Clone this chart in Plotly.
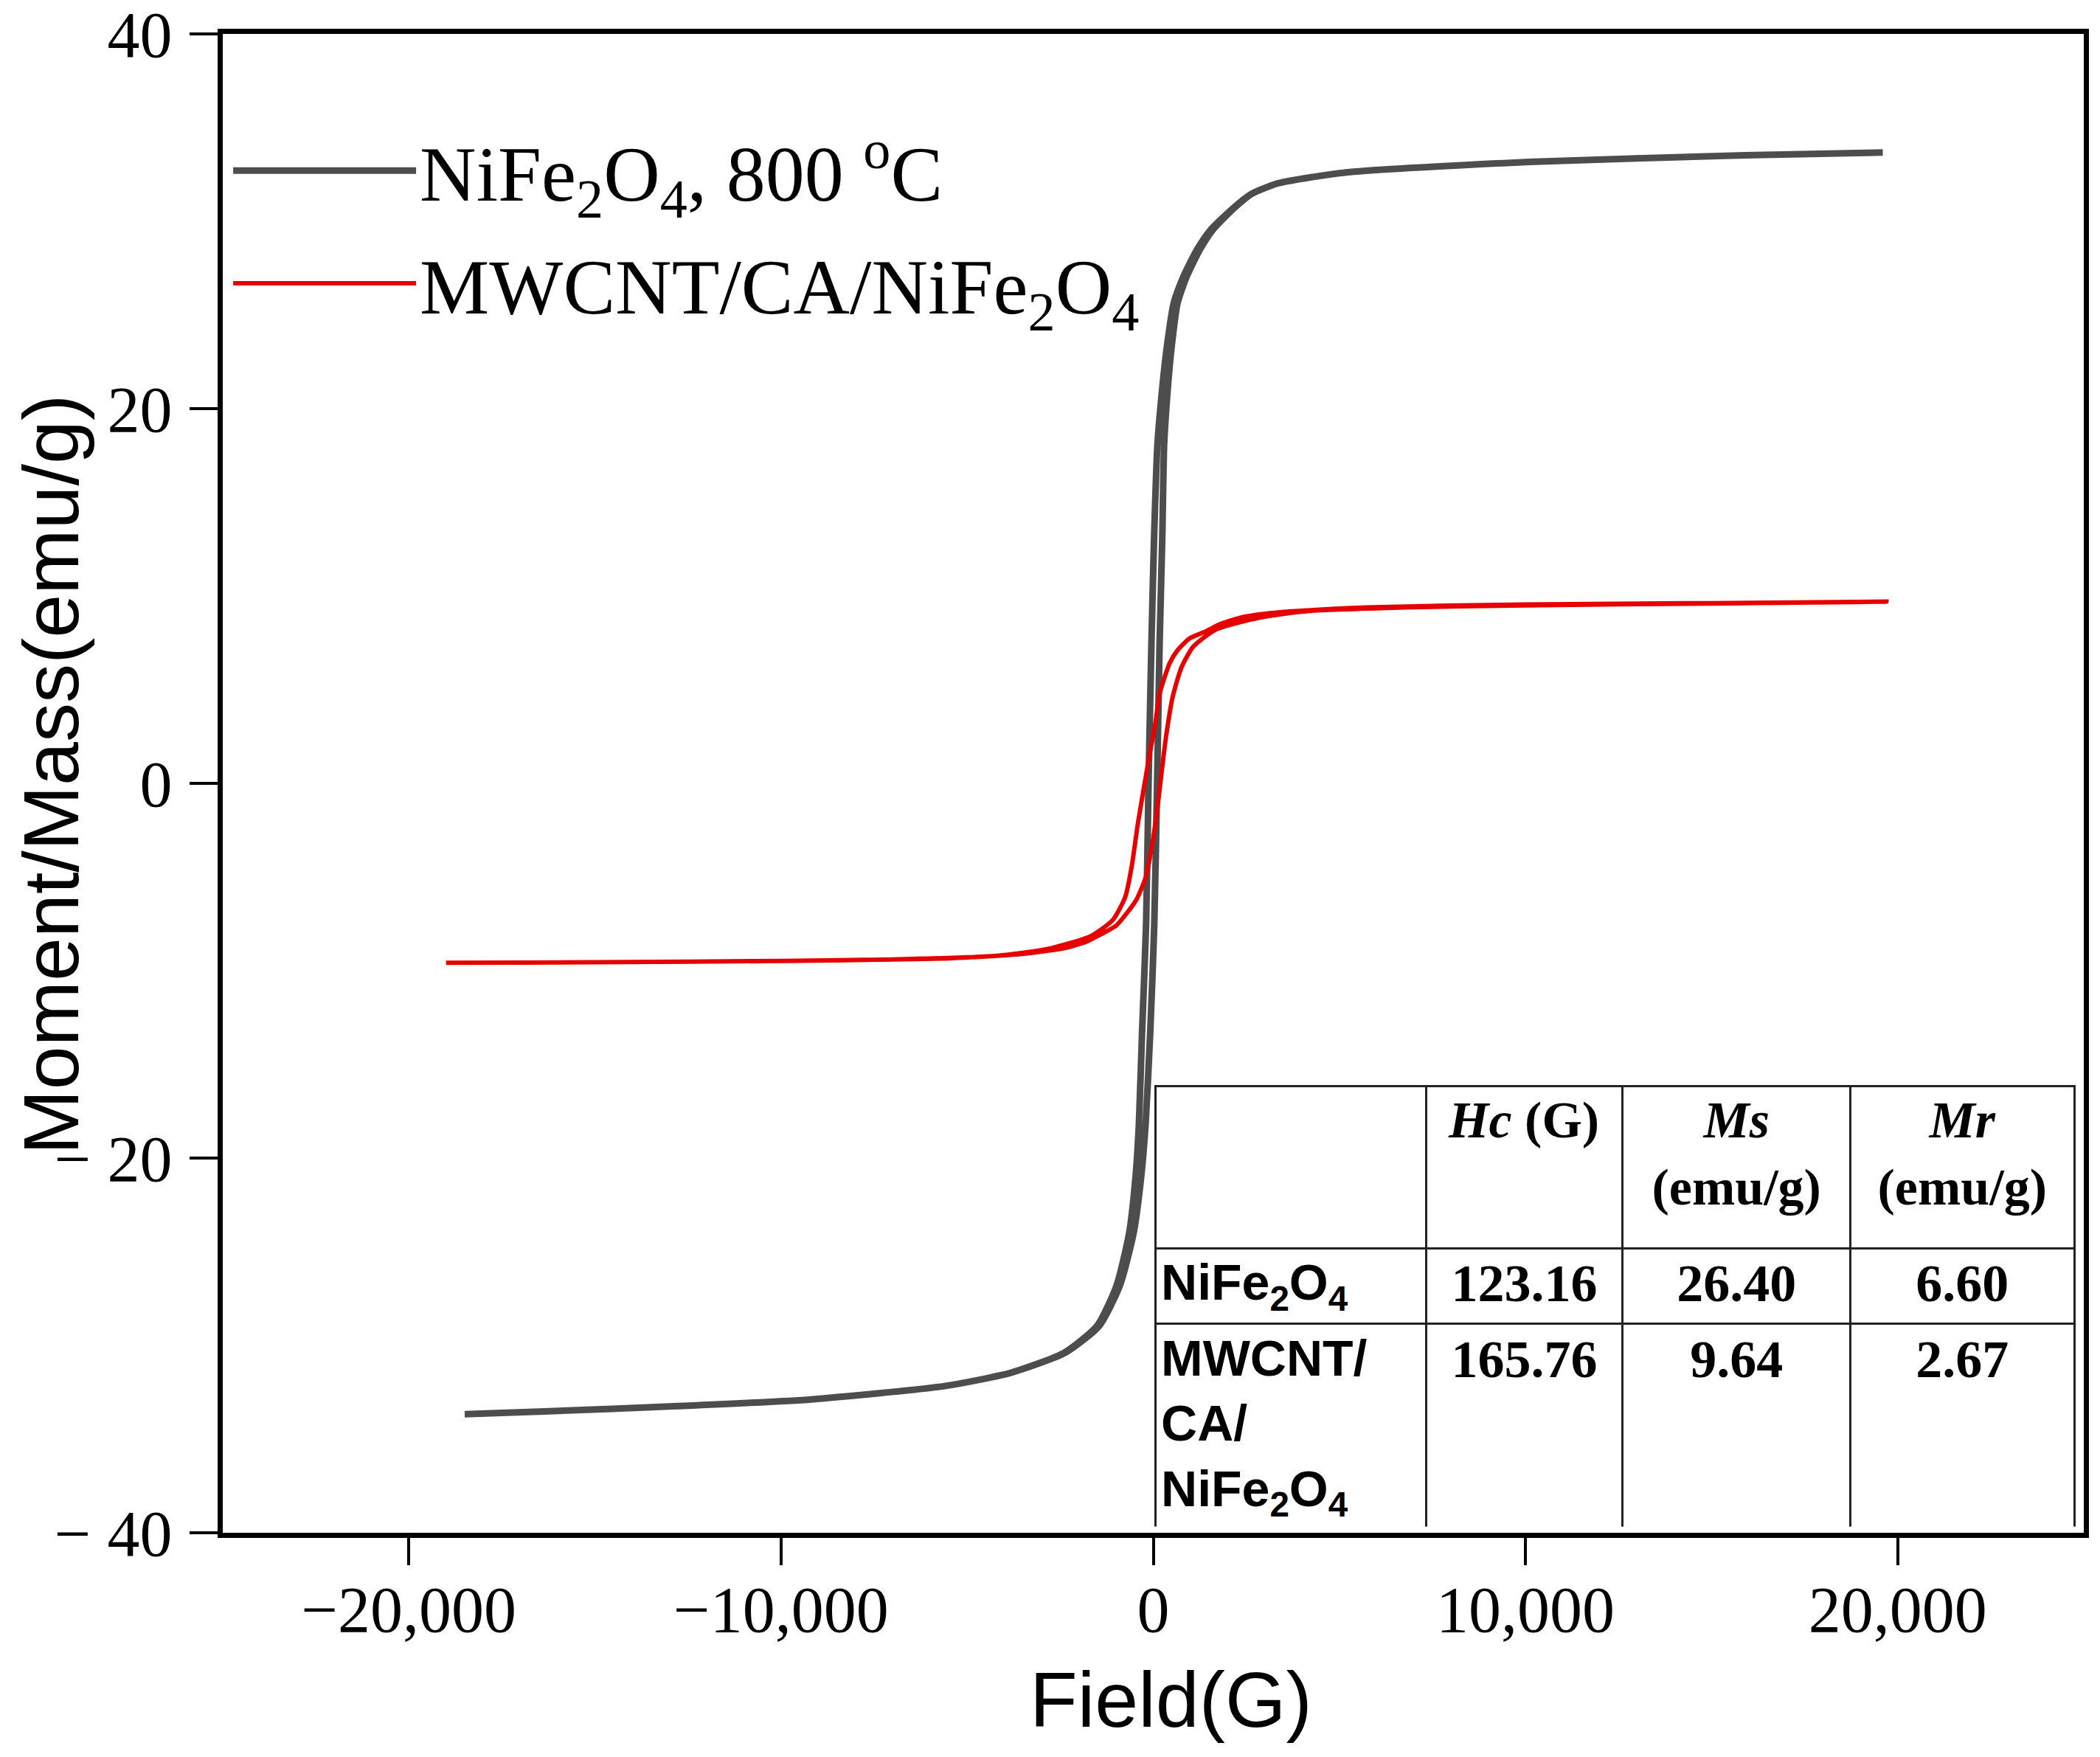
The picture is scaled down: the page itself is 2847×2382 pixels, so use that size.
import plotly.graph_objects as go

# NiFe2O4, 800 °C loop: branch coming down from +saturation, then branch going back up
nife_down_field = [19600, 15900, 10100, 5150, 3357, 2636, 2088, 1535, 1167, 804, 546, 353, 236, 113, 22,
                   -50, -127, -193, -301, -388, -481, -645, -989, -1511, -2392, -3811, -5603, -9187,
                   -12772, -16356, -18500]
nife_down_moment = [33.67, 33.52, 33.17, 32.60, 32.03, 31.46, 30.60, 29.53, 28.46, 27.03, 25.61, 23.11, 20.97,
                    18.12, 13.12, 7.42, 0.0, -7.56, -13.27, -18.26, -21.11, -23.97, -26.82, -28.96, -30.39,
                    -31.45, -32.17, -32.88, -33.24, -33.52, -33.67]
nife_up_field = [-18500, -16356, -12772, -9187, -5603, -3811, -2362, -1451, -899, -525, -331, -208, -81, 27,
                 103, 170, 242, 293, 386, 483, 650, 894, 1247, 1595, 2118, 2646, 3357, 5150, 10100, 15900, 19600]
nife_up_moment = [-33.67, -33.52, -33.24, -32.88, -32.17, -31.45, -30.39, -28.96, -26.82, -23.97, -21.11,
                  -18.26, -13.27, -7.56, 0.0, 7.42, 13.12, 18.12, 20.97, 23.11, 25.61, 27.03, 28.46, 29.53,
                  30.60, 31.46, 32.03, 32.60, 33.17, 33.52, 33.67]

# MWCNT/CA/NiFe2O4 loop
comp_down_field = [19700, 15000, 10000, 5700, 3500, 2400, 1800, 1400, 970, 650, 440, 178, 46, -86, -232,
                   -416, -581, -747, -1076, -1671, -2860, -4190, -7000, -10000, -15000, -19000]
comp_down_moment = [9.70, 9.62, 9.55, 9.39, 9.15, 8.87, 8.50, 8.10, 7.73, 7.10, 6.41, 4.83, 3.08, 1.67, 0.0,
                    -2.18, -4.46, -6.03, -7.27, -8.15, -8.85, -9.20, -9.40, -9.48, -9.55, -9.58]
comp_up_field = [-19000, -15000, -10000, -5700, -3500, -2400, -1800, -1400, -1000, -700, -450, -200, -40, 80,
                 190, 330, 520, 760, 1076, 1671, 2860, 4190, 7000, 10000, 15000, 19700]
comp_up_moment = [-9.58, -9.55, -9.48, -9.35, -9.10, -8.80, -8.45, -8.05, -7.60, -6.90, -6.20, -5.00, -3.40,
                  -1.80, 0.0, 2.30, 4.60, 6.20, 7.30, 8.20, 8.85, 9.20, 9.40, 9.50, 9.60, 9.70]

# inset table
table_samples = ["<b>NiFe<sub>2</sub>O<sub>4</sub></b>", "<b>MWCNT/<br>CA/<br>NiFe<sub>2</sub>O<sub>4</sub></b>"]
hc_values = [123.16, 165.76]
ms_values = [26.40, 9.64]
mr_values = [6.60, 2.67]
pad = "\u00a0" * 4
table_headers = ["", "<b><i>Hc</i> (G)</b>",
                 "<b>" + pad + "<i>Ms</i><br>(emu/g)</b>",
                 "<b>" + pad + "<i>Mr</i><br>(emu/g)</b>"]

x_ticks = [-20000, -10000, 0, 10000, 20000]
x_ticktext = ["\u221220,000", "\u221210,000", "0", "10,000", "20,000"]
y_ticks = [-40, -20, 0, 20, 40]
y_ticktext = ["\u2212 40", "\u2212 20", "0", "20", "40"]

serif = "Liberation Serif"
sans = "Liberation Sans"

fig = go.Figure()

fig.add_trace(go.Scatter(
    x=nife_down_field + nife_up_field, y=nife_down_moment + nife_up_moment,
    mode="lines", name="NiFe<sub>2</sub>O<sub>4</sub>, 800 <sup>o</sup>C",
    line=dict(color="#4d4d4d", width=9, shape="spline", smoothing=0.6),
    legendgroup="a"))
fig.add_trace(go.Scatter(
    x=comp_down_field + comp_up_field, y=comp_down_moment + comp_up_moment,
    mode="lines", name="MWCNT/CA/NiFe<sub>2</sub>O<sub>4</sub>",
    line=dict(color="#e60000", width=6, shape="spline", smoothing=0.6),
    legendgroup="b"))

fig.add_trace(go.Table(
    domain=dict(x=[0.501, 0.995], y=[0.004, 0.298]),
    columnwidth=[369, 268, 310, 305],
    header=dict(values=table_headers, height=220,
                align=["left", "center", "center", "center"],
                font=dict(family=serif, size=70, color="black"),
                line=dict(color="#222222", width=3), fill=dict(color="white")),
    cells=dict(values=[table_samples,
                       [f"<b>{v:.2f}</b>" for v in hc_values],
                       [f"<b>{v:.2f}</b>" for v in ms_values],
                       [f"<b>{v:.2f}</b>" for v in mr_values]],
               height=102,
               align=["left", "center", "center", "center"],
               font=dict(family=[sans, serif, serif, serif], size=[68, 72, 72, 72], color="black"),
               line=dict(color="#222222", width=3), fill=dict(color="white")),
))

fig.update_layout(
    width=2847, height=2382,
    margin=dict(l=302, r=22, t=46, b=304, autoexpand=False),
    paper_bgcolor="white", plot_bgcolor="white",
    showlegend=True,
    legend=dict(x=0.0036, y=0.946, xanchor="left", yanchor="top",
                font=dict(family=serif, size=106, color="black"),
                bgcolor="rgba(0,0,0,0)", itemwidth=248, tracegroupgap=12,
                traceorder="grouped"),
    annotations=[
        dict(text="Field(G)", xref="paper", yref="paper", x=0.5097, y=-0.111,
             showarrow=False, xanchor="center", yanchor="middle",
             font=dict(family=sans, size=106, color="black")),
        dict(text="Moment/Mass(emu/g)", xref="paper", yref="paper", x=-0.0923, y=0.5057,
             textangle=-90, showarrow=False, xanchor="center", yanchor="middle",
             font=dict(family=sans, size=106, color="black")),
    ],
)

fig.update_xaxes(
    range=[-25000, 25000], tickvals=x_ticks, ticktext=x_ticktext,
    showgrid=False, zeroline=False, automargin=False,
    showline=True, linecolor="black", linewidth=7, mirror=True,
    ticks="outside", ticklen=37, tickwidth=4, tickcolor="black",
    ticklabelstandoff=-16, ticklabeloverflow="allow",
    tickfont=dict(family=serif, size=88, color="black"))
fig.update_yaxes(
    range=[-40, 40], tickvals=y_ticks, ticktext=y_ticktext,
    showgrid=False, zeroline=False, automargin=False,
    showline=True, linecolor="black", linewidth=7, mirror=True,
    ticks="outside", ticklen=38, tickwidth=4, tickcolor="black",
    ticklabelstandoff=6, ticklabeloverflow="allow",
    tickfont=dict(family=serif, size=88, color="black"))

fig.write_html("out.html", config={"displayModeBar": False},
               post_script="document.body.style.margin='0px';")
